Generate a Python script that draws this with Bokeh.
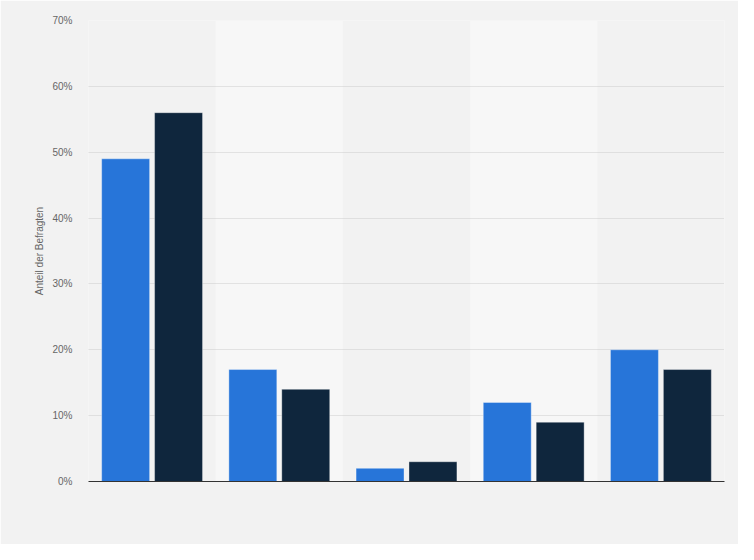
from bokeh.plotting import figure
from bokeh.models import FactorRange, PrintfTickFormatter, FixedTicker, ColumnDataSource
from bokeh.transform import dodge
from bokeh.embed import file_html
from bokeh.resources import INLINE

categories = ["1", "2", "3", "4", "5"]
series_a = [49, 17, 2, 12, 20]
series_b = [56, 14, 3, 9, 17]
y_ticks = [0, 10, 20, 30, 40, 50, 60, 70]

band_cats = [c for i, c in enumerate(categories) if i % 2 == 1]

p = figure(width=738, height=544, x_range=FactorRange(*categories, range_padding=0),
           y_range=(0, 70), output_backend="svg", toolbar_location=None,
           min_border_left=88, min_border_right=14, min_border_top=20, min_border_bottom=63)
p.background_fill_color = "#f2f2f2"
p.border_fill_color = "#f2f2f2"
p.outline_line_color = None
p.x_range.range_padding = 0

p.vbar(x=band_cats, top=[y_ticks[-1]] * len(band_cats), bottom=0, width=1.0,
       fill_color="#f7f7f7", line_color=None, level="underlay")

src = ColumnDataSource(dict(cat=categories, a=series_a, b=series_b))
p.vbar(x=dodge("cat", -0.208, range=p.x_range), top="a", width=0.377, source=src,
       fill_color="#2775d9", line_color="#ffffff", line_alpha=0.35, line_width=1)
p.vbar(x=dodge("cat", 0.208, range=p.x_range), top="b", width=0.377, source=src,
       fill_color="#0f263d", line_color="#ffffff", line_alpha=0.35, line_width=1)

p.xgrid.grid_line_color = None
p.ygrid.grid_line_color = "#cccccc"
p.ygrid.grid_line_dash = "1 1"
p.ygrid.grid_line_width = 1
p.ygrid.ticker = FixedTicker(ticks=y_ticks[1:])

p.yaxis.ticker = FixedTicker(ticks=y_ticks)
p.yaxis.formatter = PrintfTickFormatter(format="%d%%")
p.yaxis.axis_line_color = None
p.yaxis.major_tick_line_color = None
p.yaxis.minor_tick_line_color = None
p.yaxis.major_label_text_font = "Liberation Sans"
p.yaxis.major_label_text_font_size = "10px"
p.yaxis.major_label_text_color = "#666666"
p.yaxis.major_label_standoff = 10
p.yaxis.axis_label = "Anteil der Befragten"
p.yaxis.axis_label_text_font = "Liberation Sans"
p.yaxis.axis_label_text_font_style = "normal"
p.yaxis.axis_label_text_font_size = "10px"
p.yaxis.axis_label_text_color = "#666666"
p.yaxis.axis_label_standoff = 4

p.xaxis.axis_line_color = "#333333"
p.xaxis.axis_line_width = 1
p.xaxis.major_tick_line_color = None
p.xaxis.minor_tick_line_color = None
p.xaxis.major_label_text_color = None
p.xaxis.major_label_text_font_size = "1px"

open("out.html", "w").write(file_html(p, INLINE))
